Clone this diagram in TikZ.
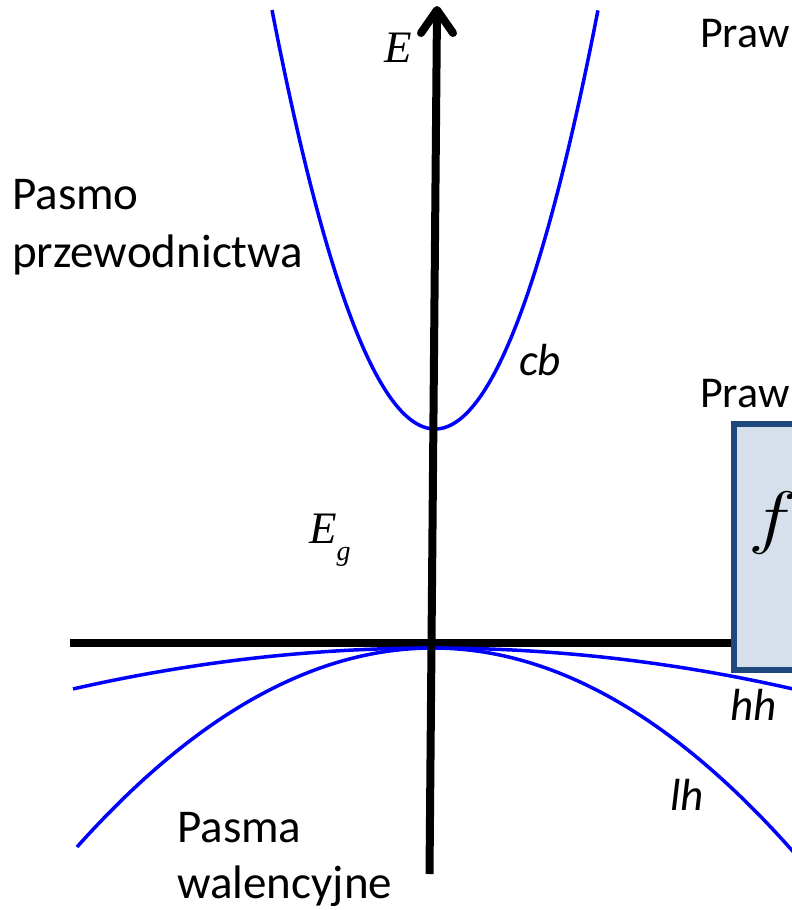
\RequirePackage{fix-cm}
\documentclass[tikz,border=0pt]{standalone}
\usepackage{fontspec}
\setmainfont{Carlito}
\newfontfamily\timesit{Liberation Serif}
\definecolor{bandblue}{RGB}{0,0,255}
\definecolor{boxfill}{RGB}{214,224,237}
\definecolor{boxdraw}{RGB}{31,73,125}
\begin{document}
\begin{tikzpicture}[x=1pt,y=-1pt,
  band/.style={draw=bandblue, line width=3.5pt},
  axisline/.style={draw=black, line width=8pt},
  lbl/.style={inner sep=0pt, anchor=base west, font=\fontsize{47}{56}\selectfont},
  ilbl/.style={inner sep=0pt, anchor=base west, font=\fontsize{45}{54}\selectfont\itshape},
  mlbl/.style={inner sep=0pt, anchor=base west, font=\fontsize{45}{54}\selectfont\timesit\itshape},
  panel/.style={draw=boxdraw, fill=boxfill, line width=6pt}]
\useasboundingbox (0,0) rectangle (792,910);
\clip (0,0) rectangle (792,910);
% horizontal axis
\coordinate (hl) at (70,643);
\coordinate (hr) at (740,643);
\draw[axisline] (hl) -- (hr);
% box
\draw[panel] (734,424) rectangle (840,670);
\node[inner sep=0pt, anchor=base west, font=\fontsize{70}{80}\selectfont] (f) at (748,540) {\scalebox{1.2}[1]{$f$}};
% bands
\draw[band] plot[domain=-1.63:1.63, samples=120, variable=\t] ({435+100*\t}, {429-157.7*\t*\t});
\draw[band] plot[domain=-3.6:3.7, samples=120, variable=\t] ({433+100*\t}, {648+3.16*\t*\t});
\draw[band] plot[domain=-3.56:3.7, samples=120, variable=\t] ({433+100*\t}, {648+15.7*\t*\t});
% vertical axis
\coordinate (vb) at (429.5,874);
\coordinate (vt) at (437,10);
\coordinate (al) at (421,33);
\coordinate (ar) at (453,33);
\draw[axisline] (vb) -- (vt);
\draw[axisline, line cap=round, line join=round] (al) -- (vt) -- (ar);
% labels
\node[mlbl] (E) at (384,62) {E};
\node[mlbl] (Eg) at (309,543) {E\raisebox{-17pt}{\fontsize{28}{30}\selectfont g}};
\node[lbl, font=\fontsize{44}{52}\selectfont] (praw1) at (700,47) {Praw};
\node[lbl, font=\fontsize{44}{52}\selectfont] (praw2) at (700,407) {Praw};
\node[lbl] (pasmo) at (12,209) {Pasmo};
\node[lbl] (przew) at (12,267) {przewodnictwa};
\node[lbl] (pasma) at (177,842) {Pasma};
\node[lbl] (walen) at (177,898) {walencyjne};
\node[ilbl] (cb) at (519,375) {cb};
\node[ilbl] (hh) at (730,720) {hh};
\node[ilbl] (lh) at (670,810) {lh};
\end{tikzpicture}
\end{document}
